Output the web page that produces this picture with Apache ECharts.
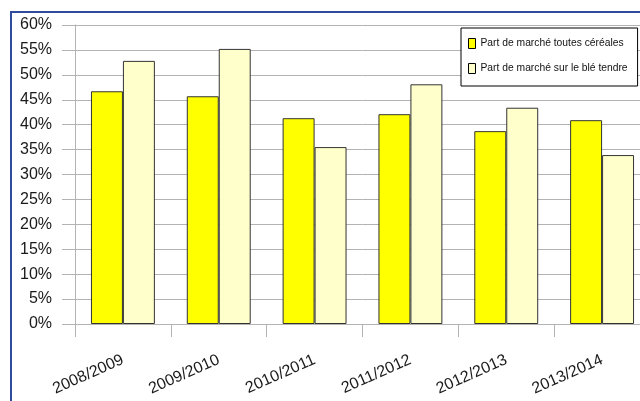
<!DOCTYPE html>
<html>
<head>
<meta charset="utf-8">
<script src="https://cdn.jsdelivr.net/npm/echarts@6/dist/echarts.min.js"></script>
<style>
html,body{margin:0;padding:0;background:#fff;overflow:hidden;width:640px;height:401px;}
#c{width:660px;height:401px;}
</style>
</head>
<body>
<div id="c"></div>
<script>
const categories = ['2008/2009','2009/2010','2010/2011','2011/2012','2012/2013','2013/2014'];
const seriesNames = ['Part de marché toutes céréales','Part de marché sur le blé tendre'];
const toutesCereales = [0.467, 0.457, 0.413, 0.421, 0.387, 0.409];
const bleTendre = [0.528, 0.552, 0.355, 0.481, 0.434, 0.339];

const chart = echarts.init(document.getElementById('c'), null, {renderer:'canvas'});
const gray = '#b3b3b3';
const FONT = "'Liberation Sans', Arial, sans-serif";
chart.setOption({
  animation:false,
  backgroundColor:'#fff',
  textStyle:{fontFamily:FONT},
  graphic:[{
    type:'rect', z:100, silent:true,
    shape:{x:11,y:12,width:700,height:500},
    style:{fill:'none',stroke:'#2E4B9C',lineWidth:2}
  }],
  grid:{left:75,right:10,top:25,bottom:77,containLabel:false},
  legend:{
    orient:'vertical', left:461, top:28,
    padding:[9,10,11,7],
    itemGap:12, itemWidth:7, itemHeight:10,
    backgroundColor:'#fff', borderColor:'#000', borderWidth:1,
    icon:'rect',
    itemStyle:{borderColor:'#000',borderWidth:1},
    textStyle:{fontFamily:FONT,fontSize:10.3,color:'#111',lineHeight:13},
    data:seriesNames
  },
  xAxis:{
    type:'category', data:categories,
    boundaryGap:true,
    axisLine:{show:true,lineStyle:{color:gray,width:1}},
    axisTick:{show:true,length:13,lineStyle:{color:gray}},
    axisLabel:{rotate:24,margin:35,fontSize:16,color:'#1a1a1a',fontFamily:FONT},
    splitLine:{show:false}
  },
  yAxis:{
    type:'value', min:0, max:0.6, interval:0.05,
    axisLine:{show:true,lineStyle:{color:gray,width:1}},
    axisTick:{show:true,length:13,lineStyle:{color:gray}},
    axisLabel:{margin:23,fontSize:16,color:'#1a1a1a',fontFamily:FONT,
      formatter:v=>Math.round(v*100)+'%'},
    splitLine:{show:true,lineStyle:{color:gray,width:1}}
  },
  series:[
    {name:seriesNames[0],type:'bar',data:toutesCereales,barGap:'0%',barCategoryGap:'33.3%',
     itemStyle:{color:'#FFFF00',borderColor:'#333',borderWidth:1}},
    {name:seriesNames[1],type:'bar',data:bleTendre,barGap:'0%',barCategoryGap:'33.3%',
     itemStyle:{color:'#FFFFCC',borderColor:'#333',borderWidth:1}}
  ]
});
</script>
</body>
</html>
